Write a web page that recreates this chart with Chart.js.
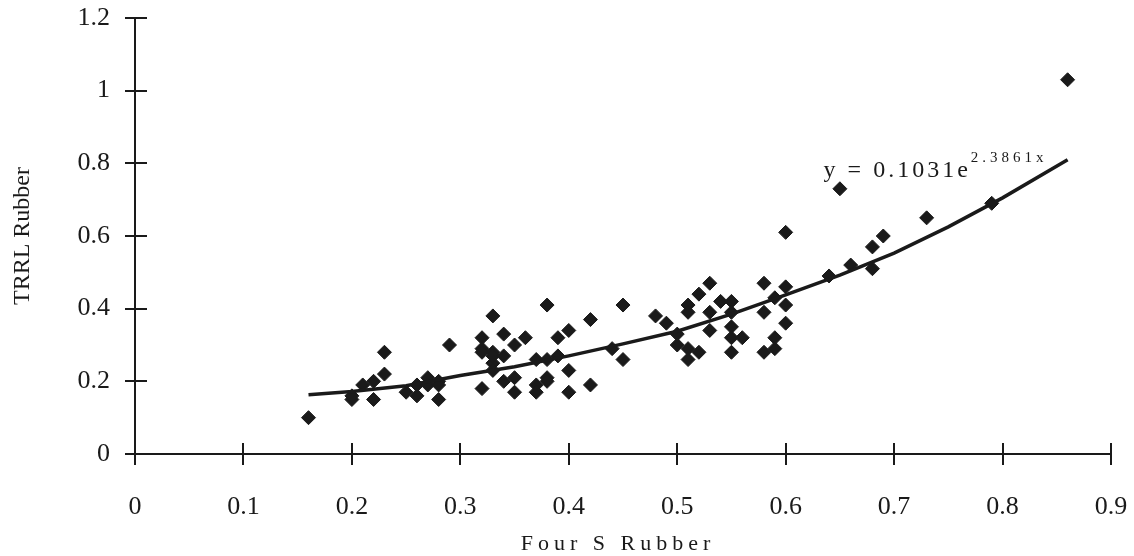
<!DOCTYPE html>
<html>
<head>
<meta charset="utf-8">
<script src="https://cdn.jsdelivr.net/npm/chart.js@4/dist/chart.umd.min.js"></script>
<style>
  html, body { margin:0; padding:0; background:#fff; }
  #wrap { width:1134px; height:556px; }
</style>
</head>
<body>
<div id="wrap"><canvas id="c" width="1134" height="556"></canvas></div>
<script>
// Four S vs TRRL rubber readings
const fourS = [
  0.16,
  0.20, 0.20, 0.21, 0.22, 0.22, 0.23, 0.23,
  0.25, 0.26, 0.26, 0.27, 0.27, 0.28, 0.28, 0.28, 0.29,
  0.32, 0.32, 0.32, 0.32, 0.33, 0.33, 0.33, 0.33, 0.33,
  0.34, 0.34, 0.34, 0.35, 0.35, 0.35, 0.36,
  0.37, 0.37, 0.37, 0.38, 0.38, 0.38, 0.38, 0.39, 0.39,
  0.40, 0.40, 0.40, 0.42, 0.42, 0.44, 0.45, 0.45,
  0.48, 0.49, 0.50, 0.50, 0.51, 0.51, 0.51, 0.51,
  0.52, 0.52, 0.53, 0.53, 0.53, 0.54,
  0.55, 0.55, 0.55, 0.55, 0.55, 0.56,
  0.58, 0.58, 0.58, 0.59, 0.59, 0.59,
  0.60, 0.60, 0.60, 0.60,
  0.64, 0.65, 0.66, 0.68, 0.68, 0.69, 0.73, 0.79, 0.86
];
const trrl = [
  0.10,
  0.15, 0.16, 0.19, 0.20, 0.15, 0.22, 0.28,
  0.17, 0.16, 0.19, 0.21, 0.19, 0.20, 0.15, 0.19, 0.30,
  0.32, 0.29, 0.28, 0.18, 0.38, 0.28, 0.25, 0.23, 0.27,
  0.33, 0.27, 0.20, 0.30, 0.21, 0.17, 0.32,
  0.26, 0.19, 0.17, 0.41, 0.26, 0.21, 0.20, 0.32, 0.27,
  0.34, 0.23, 0.17, 0.37, 0.19, 0.29, 0.41, 0.26,
  0.38, 0.36, 0.33, 0.30, 0.41, 0.39, 0.29, 0.26,
  0.44, 0.28, 0.47, 0.39, 0.34, 0.42,
  0.42, 0.39, 0.35, 0.32, 0.28, 0.32,
  0.47, 0.39, 0.28, 0.43, 0.32, 0.29,
  0.61, 0.46, 0.41, 0.36,
  0.49, 0.73, 0.52, 0.57, 0.51, 0.60, 0.65, 0.69, 1.03
];

// exponential trendline as drawn in the figure
const trendX = [0.16, 0.20, 0.25, 0.30, 0.35, 0.40, 0.45, 0.50, 0.55, 0.60, 0.65, 0.70, 0.75, 0.80, 0.86];
const trendY = [0.163, 0.172, 0.188, 0.216, 0.240, 0.270, 0.303, 0.338, 0.385, 0.438, 0.492, 0.553, 0.625, 0.705, 0.810];

const xTicks = [0, 0.1, 0.2, 0.3, 0.4, 0.5, 0.6, 0.7, 0.8, 0.9];
const yTicks = [0, 0.2, 0.4, 0.6, 0.8, 1, 1.2];

const eqBase = 'y = 0.1031e';
const eqExp = '2.3861x';
const eqAt = [0.635, 0.763]; // data position of the equation label

const INK = '#1a1a1a';
const SERIF = '"Liberation Serif", "Times New Roman", serif';

const points = fourS.map((x, i) => ({ x: x, y: trrl[i] }));
const trend = trendX.map((x, i) => ({ x: x, y: trendY[i] }));

// keep the tick label padding from pushing the plot area in
function noPad(s){ s.paddingLeft = 0; s.paddingRight = 0; s.paddingTop = 0; s.paddingBottom = 0; }

// cross ticks, x title and the equation
const extras = {
  id: 'extras',
  afterDraw(chart){
    const ctx = chart.ctx, xs = chart.scales.x, ys = chart.scales.y;
    const x0 = xs.getPixelForValue(0), y0 = ys.getPixelForValue(0);
    ctx.save();
    ctx.strokeStyle = INK; ctx.lineWidth = 2;
    ctx.beginPath();
    xTicks.forEach(v => { const p = Math.round(xs.getPixelForValue(v)); ctx.moveTo(p, y0 - 11); ctx.lineTo(p, y0 + 11); });
    yTicks.forEach(v => { const p = Math.round(ys.getPixelForValue(v)); ctx.moveTo(x0 - 10, p); ctx.lineTo(x0 + 12, p); });
    ctx.stroke();

    ctx.fillStyle = INK;
    ctx.textBaseline = 'alphabetic';
    // x axis title, letter spaced like the original
    ctx.font = '22px ' + SERIF;
    ctx.letterSpacing = '5px';
    ctx.textAlign = 'center';
    ctx.fillText('Four S Rubber', (chart.chartArea.left + chart.chartArea.right) / 2 - 5, 550);

    // trendline equation
    const ex = xs.getPixelForValue(eqAt[0]), ey = ys.getPixelForValue(eqAt[1]);
    ctx.textAlign = 'left';
    ctx.font = '24px ' + SERIF;
    ctx.letterSpacing = '3px';
    ctx.fillText(eqBase, ex, ey);
    const w = ctx.measureText(eqBase).width;
    ctx.font = '15px ' + SERIF;
    ctx.letterSpacing = '4px';
    ctx.fillText(eqExp, ex + w, ey - 15);
    ctx.restore();
  }
};

new Chart(document.getElementById('c'), {
  type: 'scatter',
  data: {
    datasets: [
      { type:'line', data: trend, borderColor: INK, borderWidth: 3.5, pointRadius: 0, fill: false, tension: 0 },
      { data: points, pointStyle: 'rectRot', pointRadius: 7, pointBackgroundColor: INK, pointBorderColor: INK, pointBorderWidth: 1, showLine: false }
    ]
  },
  options: {
    responsive: false,
    animation: false,
    layout: { padding: { top: 18, right: 23, left: 0, bottom: 0 } },
    plugins: { legend: { display: false }, tooltip: { enabled: false } },
    scales: {
      x: {
        type: 'linear', min: 0, max: 0.9,
        afterBuildTicks: s => { s.ticks = xTicks.map(v => ({ value: v })); },
        afterFit: s => { s.height = 102; noPad(s); },
        grid: { display: false, drawTicks: false },
        border: { display: true, color: INK, width: 2 },
        ticks: { padding: 38, color: INK, font: { family: SERIF, size: 26 }, maxRotation: 0,
                 callback: v => String(+v.toFixed(1)) },
        title: { display: false }
      },
      y: {
        type: 'linear', min: 0, max: 1.2,
        afterBuildTicks: s => { s.ticks = yTicks.map(v => ({ value: v })); },
        afterFit: s => { s.width = 135; noPad(s); },
        grid: { display: false, drawTicks: false },
        border: { display: true, color: INK, width: 2 },
        ticks: { padding: 25, color: INK, font: { family: SERIF, size: 26 },
                 callback: v => String(+v.toFixed(1)) },
        title: { display: true, text: 'TRRL Rubber', color: INK, font: { family: SERIF, size: 24 },
                 padding: { top: 8, bottom: 0 } }
      }
    }
  },
  plugins: [extras]
});
</script>
</body>
</html>
